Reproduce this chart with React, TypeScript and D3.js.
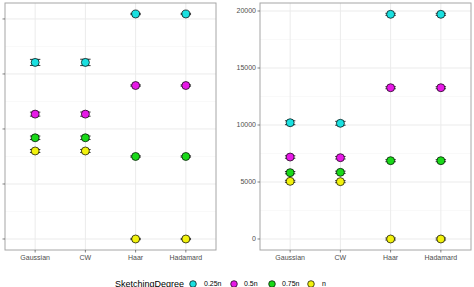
import React from "react";
import * as d3 from "d3";

const categories = ["Gaussian", "CW", "Haar", "Hadamard"];
const degrees = ["0.25n", "0.5n", "0.75n", "n"];
const colors = ["#1AE0E0", "#E619E6", "#19D919", "#F2F20D"];

// left panel (its tick labels fall outside the picture, as in the reference)
const leftTicks = [0, 100, 200, 300, 400];
const leftMean = [
  [321, 227, 184, 160],
  [321, 227, 184, 160],
  [409, 279, 150, 0],
  [409, 279, 150, 0],
];
const leftErr = [
  [5.5, 3.6, 3.2, 2.7],
  [5.8, 3.8, 3.2, 2.7],
  [1.2, 1.2, 1.2, 1.2],
  [1.2, 1.2, 1.2, 1.2],
];

// right panel
const rightTicks = [0, 5000, 10000, 15000, 20000];
const rightMean = [
  [10200, 7190, 5820, 5060],
  [10150, 7130, 5850, 5030],
  [19710, 13270, 6870, 0],
  [19710, 13270, 6870, 0],
];
const rightErr = [
  [170, 110, 100, 90],
  [170, 110, 100, 90],
  [90, 90, 90, 90],
  [90, 90, 90, 90],
];

const TOP = 3;
const BOTTOM = 250;

function Panel({ x0, x1, domain, ticks, means, errs, labelOffset }: any) {
  const x = d3.scalePoint<string>().domain(categories).range([x0, x1]).padding(0.6);
  const y = d3.scaleLinear().domain(domain).range([BOTTOM, TOP]);
  const minor: number[] = [];
  for (let i = 0; i < ticks.length - 1; i++) minor.push((ticks[i] + ticks[i + 1]) / 2);
  const step = ticks[1] - ticks[0];
  if (ticks[ticks.length - 1] + step / 2 < domain[1]) minor.push(ticks[ticks.length - 1] + step / 2);
  if (ticks[0] - step / 2 > domain[0]) minor.push(ticks[0] - step / 2);
  const fmt = (v: number) => String(v);
  return (
    <g>
      <rect x={x0} y={TOP} width={x1 - x0} height={BOTTOM - TOP} fill="#fff" />
      {minor.map((t) => (
        <line key={"m" + t} x1={x0} x2={x1} y1={y(t)} y2={y(t)} stroke="#f2f2f2" strokeWidth={0.5} />
      ))}
      {ticks.map((t: number) => (
        <line key={"g" + t} x1={x0} x2={x1} y1={y(t)} y2={y(t)} stroke="#ebebeb" strokeWidth={1} />
      ))}
      {categories.map((c) => (
        <line key={"v" + c} x1={x(c)!} x2={x(c)!} y1={TOP} y2={BOTTOM} stroke="#ebebeb" strokeWidth={1} />
      ))}
      {categories.map((c, ci) =>
        degrees.map((dg, di) => {
          const cx = x(c)!;
          const m = means[ci][di];
          const e = errs[ci][di];
          const yt = y(m + e);
          const yb = y(m - e);
          const hw = 5.2;
          return (
            <g key={c + dg}>
              <line x1={cx} x2={cx} y1={yt} y2={yb} stroke="#000" strokeWidth={0.8} />
              <line x1={cx - hw} x2={cx + hw} y1={yt} y2={yt} stroke="#000" strokeWidth={0.8} />
              <line x1={cx - hw} x2={cx + hw} y1={yb} y2={yb} stroke="#000" strokeWidth={0.8} />
            </g>
          );
        })
      )}
      {categories.map((c, ci) =>
        degrees.map((dg, di) => (
          <circle
            key={"p" + c + dg}
            cx={x(c)!}
            cy={y(means[ci][di])}
            r={4}
            fill={colors[di]}
            stroke="#000"
            strokeWidth={0.7}
          />
        ))
      )}
      <rect x={x0} y={TOP} width={x1 - x0} height={BOTTOM - TOP} fill="none" stroke="#a6a6a6" strokeWidth={1} />
      {ticks.map((t: number) => (
        <g key={"t" + t}>
          <line x1={x0 - 2.5} x2={x0} y1={y(t)} y2={y(t)} stroke="#333" strokeWidth={0.6} />
          <text x={x0 - labelOffset} y={y(t)} dy="0.35em" textAnchor="end" fontSize={7} fill="#4d4d4d" fontFamily="Liberation Sans, Arial, sans-serif">
            {fmt(t)}
          </text>
        </g>
      ))}
      {categories.map((c) => (
        <g key={"xt" + c}>
          <line x1={x(c)!} x2={x(c)!} y1={BOTTOM} y2={BOTTOM + 2.5} stroke="#333" strokeWidth={0.6} />
          <text x={x(c)!} y={BOTTOM + 9.5} textAnchor="middle" fontSize={7} fill="#4d4d4d" fontFamily="Liberation Sans, Arial, sans-serif">
            {c}
          </text>
        </g>
      ))}
    </g>
  );
}

export default function App() {
  const legendX = [193, 234, 272, 311];
  const legendLabelX = [204, 244, 282, 322];
  const ly = 284;
  return (
    <svg width={474} height={287} style={{ position: "absolute", left: 0, top: 0 }}>
      <rect width={474} height={287} fill="#fff" />
      <Panel x0={5} x1={216} domain={[-20, 429]} ticks={leftTicks} means={leftMean} errs={leftErr} labelOffset={6} />
      <Panel x0={260} x1={471} domain={[-965, 20702]} ticks={rightTicks} means={rightMean} errs={rightErr} labelOffset={4} />
      <text x={115} y={ly} dy="0.35em" fontSize={9} fill="#000" fontFamily="Liberation Sans, Arial, sans-serif">
        SketchingDegree
      </text>
      {degrees.map((dg, i) => (
        <g key={"l" + dg}>
          <circle cx={legendX[i]} cy={ly} r={3.3} fill={colors[i]} stroke="#000" strokeWidth={0.7} />
          <text x={legendLabelX[i]} y={ly} dy="0.35em" fontSize={7} fill="#000" fontFamily="Liberation Sans, Arial, sans-serif">
            {dg}
          </text>
        </g>
      ))}
    </svg>
  );
}
